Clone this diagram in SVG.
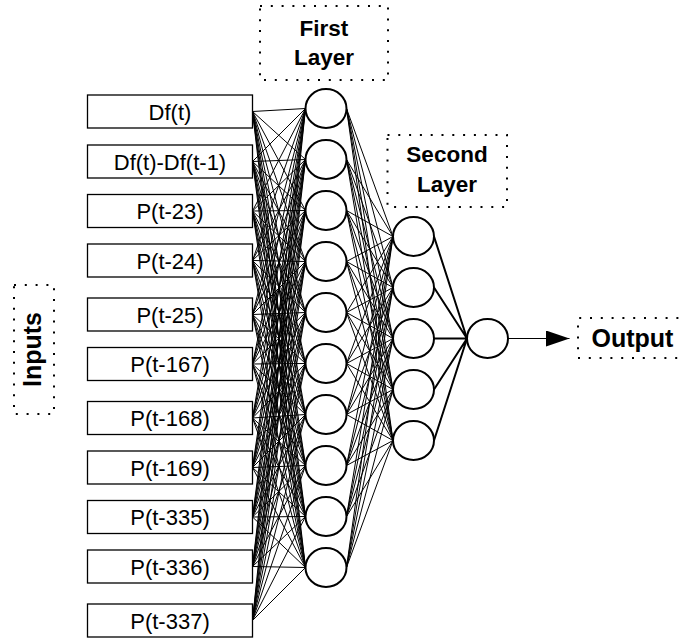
<svg xmlns="http://www.w3.org/2000/svg" width="683" height="639" viewBox="0 0 683 639">
  <style>
    .box { fill: #fff; stroke: #000; stroke-width: 1.3; }
    .neuron { fill: #fff; stroke: #000; stroke-width: 2; }
    .label { fill: none; stroke: #000; stroke-width: 2; stroke-dasharray: 2 8.8; }
    .in-txt { font-family: "Liberation Sans", Arial, sans-serif; font-size: 22px; text-anchor: middle; fill: #000; }
    .title { font-family: "Liberation Sans", Arial, sans-serif; font-weight: bold; fill: #000; }
    .thin { fill: none; stroke: #000; stroke-width: 1; }
    .thick { fill: none; stroke: #000; stroke-width: 2; }
  </style>
  <defs>
    <marker id="arrow" markerUnits="userSpaceOnUse" markerWidth="24" markerHeight="16" refX="23.5" refY="8" orient="auto">
      <path d="M0 0 L23.5 8 L0 16 Z" fill="#000"/>
    </marker>
  </defs>
  <rect width="683" height="639" fill="#fff"/>

  <!-- connectors -->
  <g id="connectors">
    <!-- inputs to first layer -->
    <path class="thin" d="M252.5 111.5L305.5 108.5M252.5 111.5L305.5 159.5M252.5 111.5L305.5 210.5M252.5 111.5L305.5 261.5M252.5 111.5L305.5 312.5M252.5 111.5L305.5 363.5M252.5 111.5L305.5 414.5M252.5 111.5L305.5 465.5M252.5 111.5L305.5 516.5M252.5 111.5L305.5 567.5"/>
    <path class="thin" d="M252.5 161.5L305.5 108.5M252.5 161.5L305.5 159.5M252.5 161.5L305.5 210.5M252.5 161.5L305.5 261.5M252.5 161.5L305.5 312.5M252.5 161.5L305.5 363.5M252.5 161.5L305.5 414.5M252.5 161.5L305.5 465.5M252.5 161.5L305.5 516.5M252.5 161.5L305.5 567.5"/>
    <path class="thin" d="M252.5 211L305.5 108.5M252.5 211L305.5 159.5M252.5 211L305.5 210.5M252.5 211L305.5 261.5M252.5 211L305.5 312.5M252.5 211L305.5 363.5M252.5 211L305.5 414.5M252.5 211L305.5 465.5M252.5 211L305.5 516.5M252.5 211L305.5 567.5"/>
    <path class="thin" d="M252.5 260.5L305.5 108.5M252.5 260.5L305.5 159.5M252.5 260.5L305.5 210.5M252.5 260.5L305.5 261.5M252.5 260.5L305.5 312.5M252.5 260.5L305.5 363.5M252.5 260.5L305.5 414.5M252.5 260.5L305.5 465.5M252.5 260.5L305.5 516.5M252.5 260.5L305.5 567.5"/>
    <path class="thin" d="M252.5 314.5L305.5 108.5M252.5 314.5L305.5 159.5M252.5 314.5L305.5 210.5M252.5 314.5L305.5 261.5M252.5 314.5L305.5 312.5M252.5 314.5L305.5 363.5M252.5 314.5L305.5 414.5M252.5 314.5L305.5 465.5M252.5 314.5L305.5 516.5M252.5 314.5L305.5 567.5"/>
    <path class="thin" d="M252.5 364L305.5 108.5M252.5 364L305.5 159.5M252.5 364L305.5 210.5M252.5 364L305.5 261.5M252.5 364L305.5 312.5M252.5 364L305.5 363.5M252.5 364L305.5 414.5M252.5 364L305.5 465.5M252.5 364L305.5 516.5M252.5 364L305.5 567.5"/>
    <path class="thin" d="M252.5 418L305.5 108.5M252.5 418L305.5 159.5M252.5 418L305.5 210.5M252.5 418L305.5 261.5M252.5 418L305.5 312.5M252.5 418L305.5 363.5M252.5 418L305.5 414.5M252.5 418L305.5 465.5M252.5 418L305.5 516.5M252.5 418L305.5 567.5"/>
    <path class="thin" d="M252.5 467.5L305.5 108.5M252.5 467.5L305.5 159.5M252.5 467.5L305.5 210.5M252.5 467.5L305.5 261.5M252.5 467.5L305.5 312.5M252.5 467.5L305.5 363.5M252.5 467.5L305.5 414.5M252.5 467.5L305.5 465.5M252.5 467.5L305.5 516.5M252.5 467.5L305.5 567.5"/>
    <path class="thin" d="M252.5 517L305.5 108.5M252.5 517L305.5 159.5M252.5 517L305.5 210.5M252.5 517L305.5 261.5M252.5 517L305.5 312.5M252.5 517L305.5 363.5M252.5 517L305.5 414.5M252.5 517L305.5 465.5M252.5 517L305.5 516.5M252.5 517L305.5 567.5"/>
    <path class="thin" d="M252.5 566.5L305.5 108.5M252.5 566.5L305.5 159.5M252.5 566.5L305.5 210.5M252.5 566.5L305.5 261.5M252.5 566.5L305.5 312.5M252.5 566.5L305.5 363.5M252.5 566.5L305.5 414.5M252.5 566.5L305.5 465.5M252.5 566.5L305.5 516.5M252.5 566.5L305.5 567.5"/>
    <path class="thin" d="M252.5 620.5L305.5 108.5M252.5 620.5L305.5 159.5M252.5 620.5L305.5 210.5M252.5 620.5L305.5 261.5M252.5 620.5L305.5 312.5M252.5 620.5L305.5 363.5M252.5 620.5L305.5 414.5M252.5 620.5L305.5 465.5M252.5 620.5L305.5 516.5M252.5 620.5L305.5 567.5"/>
    <!-- first layer to second layer -->
    <path class="thin" d="M346.5 108.5L393 236.5M346.5 108.5L393 287.5M346.5 108.5L393 338.5M346.5 108.5L393 389.5M346.5 108.5L393 440.5"/>
    <path class="thin" d="M346.5 159.5L393 236.5M346.5 159.5L393 287.5M346.5 159.5L393 338.5M346.5 159.5L393 389.5M346.5 159.5L393 440.5"/>
    <path class="thin" d="M346.5 210.5L393 236.5M346.5 210.5L393 287.5M346.5 210.5L393 338.5M346.5 210.5L393 389.5M346.5 210.5L393 440.5"/>
    <path class="thin" d="M346.5 261.5L393 236.5M346.5 261.5L393 287.5M346.5 261.5L393 338.5M346.5 261.5L393 389.5M346.5 261.5L393 440.5"/>
    <path class="thin" d="M346.5 312.5L393 236.5M346.5 312.5L393 287.5M346.5 312.5L393 338.5M346.5 312.5L393 389.5M346.5 312.5L393 440.5"/>
    <path class="thin" d="M346.5 363.5L393 236.5M346.5 363.5L393 287.5M346.5 363.5L393 338.5M346.5 363.5L393 389.5M346.5 363.5L393 440.5"/>
    <path class="thin" d="M346.5 414.5L393 236.5M346.5 414.5L393 287.5M346.5 414.5L393 338.5M346.5 414.5L393 389.5M346.5 414.5L393 440.5"/>
    <path class="thin" d="M346.5 465.5L393 236.5M346.5 465.5L393 287.5M346.5 465.5L393 338.5M346.5 465.5L393 389.5M346.5 465.5L393 440.5"/>
    <path class="thin" d="M346.5 516.5L393 236.5M346.5 516.5L393 287.5M346.5 516.5L393 338.5M346.5 516.5L393 389.5M346.5 516.5L393 440.5"/>
    <path class="thin" d="M346.5 567.5L393 236.5M346.5 567.5L393 287.5M346.5 567.5L393 338.5M346.5 567.5L393 389.5M346.5 567.5L393 440.5"/>
    <!-- second layer to output neuron -->
    <path class="thick" d="M434 236.5L467 338.5M434 287.5L467 338.5M434 338.5L467 338.5M434 389.5L467 338.5M434 440.5L467 338.5"/>
    <!-- output arrow -->
    <line class="thin" x1="508" y1="338.5" x2="569.5" y2="338.5" marker-end="url(#arrow)"/>
  </g>

  <!-- input nodes -->
  <g id="in-1"><rect class="box" x="87.5" y="95" width="165" height="33"/><text class="in-txt" x="170" y="119.5">Df(t)</text></g>
  <g id="in-2"><rect class="box" x="87.5" y="145" width="165" height="33"/><text class="in-txt" x="170" y="169.5">Df(t)-Df(t-1)</text></g>
  <g id="in-3"><rect class="box" x="87.5" y="194.5" width="165" height="33"/><text class="in-txt" x="170" y="219">P(t-23)</text></g>
  <g id="in-4"><rect class="box" x="87.5" y="244" width="165" height="33"/><text class="in-txt" x="170" y="268.5">P(t-24)</text></g>
  <g id="in-5"><rect class="box" x="87.5" y="298" width="165" height="33"/><text class="in-txt" x="170" y="322.5">P(t-25)</text></g>
  <g id="in-6"><rect class="box" x="87.5" y="347.5" width="165" height="33"/><text class="in-txt" x="170" y="372">P(t-167)</text></g>
  <g id="in-7"><rect class="box" x="87.5" y="401.5" width="165" height="33"/><text class="in-txt" x="170" y="426">P(t-168)</text></g>
  <g id="in-8"><rect class="box" x="87.5" y="451" width="165" height="33"/><text class="in-txt" x="170" y="475.5">P(t-169)</text></g>
  <g id="in-9"><rect class="box" x="87.5" y="500.5" width="165" height="33"/><text class="in-txt" x="170" y="525">P(t-335)</text></g>
  <g id="in-10"><rect class="box" x="87.5" y="550" width="165" height="33"/><text class="in-txt" x="170" y="574.5">P(t-336)</text></g>
  <g id="in-11"><rect class="box" x="87.5" y="604" width="165" height="33"/><text class="in-txt" x="170" y="628.5">P(t-337)</text></g>

  <!-- first hidden layer -->
  <g id="h1-1"><ellipse class="neuron" cx="326" cy="108.5" rx="20.5" ry="19.5"/></g>
  <g id="h1-2"><ellipse class="neuron" cx="326" cy="159.5" rx="20.5" ry="19.5"/></g>
  <g id="h1-3"><ellipse class="neuron" cx="326" cy="210.5" rx="20.5" ry="19.5"/></g>
  <g id="h1-4"><ellipse class="neuron" cx="326" cy="261.5" rx="20.5" ry="19.5"/></g>
  <g id="h1-5"><ellipse class="neuron" cx="326" cy="312.5" rx="20.5" ry="19.5"/></g>
  <g id="h1-6"><ellipse class="neuron" cx="326" cy="363.5" rx="20.5" ry="19.5"/></g>
  <g id="h1-7"><ellipse class="neuron" cx="326" cy="414.5" rx="20.5" ry="19.5"/></g>
  <g id="h1-8"><ellipse class="neuron" cx="326" cy="465.5" rx="20.5" ry="19.5"/></g>
  <g id="h1-9"><ellipse class="neuron" cx="326" cy="516.5" rx="20.5" ry="19.5"/></g>
  <g id="h1-10"><ellipse class="neuron" cx="326" cy="567.5" rx="20.5" ry="19.5"/></g>

  <!-- second hidden layer -->
  <g id="h2-1"><ellipse class="neuron" cx="413.5" cy="236.5" rx="20.5" ry="19.5"/></g>
  <g id="h2-2"><ellipse class="neuron" cx="413.5" cy="287.5" rx="20.5" ry="19.5"/></g>
  <g id="h2-3"><ellipse class="neuron" cx="413.5" cy="338.5" rx="20.5" ry="19.5"/></g>
  <g id="h2-4"><ellipse class="neuron" cx="413.5" cy="389.5" rx="20.5" ry="19.5"/></g>
  <g id="h2-5"><ellipse class="neuron" cx="413.5" cy="440.5" rx="20.5" ry="19.5"/></g>

  <!-- output neuron -->
  <g id="out"><ellipse class="neuron" cx="487.5" cy="338.5" rx="20.5" ry="19.5"/></g>

  <!-- dotted captions -->
  <g id="cap-first">
    <rect class="label" x="260" y="6" width="128" height="74"/>
    <text class="title" x="324" y="36" font-size="22.5" text-anchor="middle">First</text>
    <text class="title" x="324" y="65" font-size="22.5" text-anchor="middle">Layer</text>
  </g>
  <g id="cap-second">
    <rect class="label" x="387.5" y="135" width="119.5" height="72"/>
    <text class="title" x="447" y="161.5" font-size="22.5" text-anchor="middle">Second</text>
    <text class="title" x="447" y="191.5" font-size="22.5" text-anchor="middle">Layer</text>
  </g>
  <g id="cap-inputs">
    <rect class="label" x="14" y="285" width="40" height="129"/>
    <text class="title" font-size="25" text-anchor="middle" transform="translate(40.5 349.5) rotate(-90)">Inputs</text>
  </g>
  <g id="cap-output">
    <path class="label" d="M700 318 H578 V358 H700"/>
    <text class="title" x="591.5" y="347" font-size="25">Output</text>
  </g>
</svg>
